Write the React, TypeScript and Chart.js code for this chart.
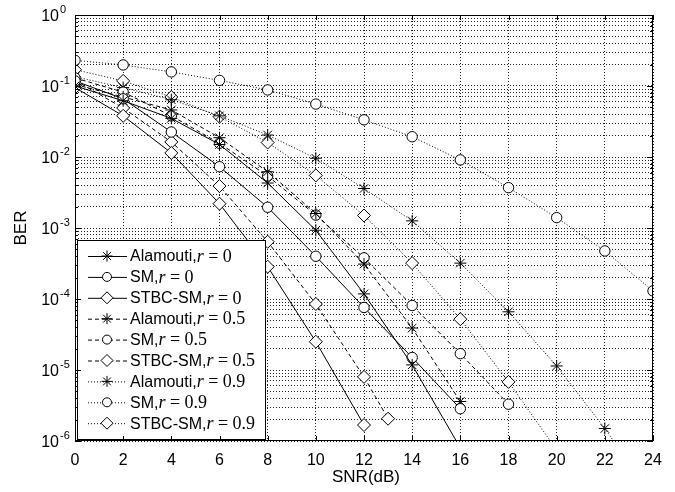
import React, { useEffect, useRef } from 'react';
import { Chart, registerables } from 'chart.js';

Chart.register(...registerables);

// ---- data (SNR in dB, BER) ----
const snrTicks = [0, 2, 4, 6, 8, 10, 12, 14, 16, 18, 20, 22, 24];
const decadeExponents = [-6, -5, -4, -3, -2, -1, 0];
const mantissas = [1, 2, 3, 4, 5, 6, 7, 8, 9];

const snrAlamoutiR0 = [0, 2, 4, 6, 8, 10, 12, 14, 16];
const berAlamoutiR0 = [0.1, 0.062, 0.035, 0.015, 0.0043, 9.3e-4, 1.18e-4, 1.18e-5, 8e-7];

const snrSmR0 = [0, 2, 4, 6, 8, 10, 12, 14, 16];
const berSmR0 = [0.118, 0.066, 0.0225, 0.0073, 0.00196, 4.0e-4, 7.6e-5, 1.5e-5, 2.85e-6];

const snrStbcR0 = [0, 2, 4, 6, 8, 10, 12];
const berStbcR0 = [0.095, 0.038, 0.0114, 0.0022, 2.85e-4, 2.5e-5, 1.68e-6];

const snrAlamoutiR05 = [0, 2, 4, 6, 8, 10, 12, 14, 16];
const berAlamoutiR05 = [0.105, 0.07, 0.046, 0.0187, 0.0062, 1.6e-3, 3.1e-4, 3.9e-5, 3.6e-6];

const snrSmR05 = [0, 2, 4, 6, 8, 10, 12, 14, 16, 18];
const berSmR05 = [0.13, 0.082, 0.038, 0.0156, 0.0054, 0.00152, 3.8e-4, 8.1e-5, 1.7e-5, 3.3e-6];

const snrStbcR05 = [0, 2, 4, 6, 8, 10, 12, 13];
const berStbcR05 = [0.12, 0.049, 0.0163, 0.0039, 6.4e-4, 8.5e-5, 8.0e-6, 2.06e-6];

const snrAlamoutiR09 = [0, 2, 4, 6, 8, 10, 12, 14, 16, 18, 20, 22, 24];
const berAlamoutiR09 = [0.135, 0.095, 0.064, 0.038, 0.0204, 0.0096, 0.0036, 0.00126, 3.2e-4, 6.6e-5, 1.14e-5, 1.5e-6, 1.6e-7];

const snrSmR09 = [0, 2, 4, 6, 8, 10, 12, 14, 16, 18, 20, 22, 24];
const berSmR09 = [0.23, 0.198, 0.158, 0.12, 0.088, 0.0557, 0.0334, 0.0193, 0.0091, 0.0037, 0.0014, 4.75e-4, 1.3e-4];

const snrStbcR09 = [0, 2, 4, 6, 8, 10, 12, 14, 16, 18, 20];
const berStbcR09 = [0.17, 0.118, 0.07, 0.037, 0.016, 0.0055, 0.0015, 3.2e-4, 5.2e-5, 6.8e-6, 7.5e-7];

const seriesNames = ['Alamouti', 'SM', 'STBC-SM', 'Alamouti', 'SM', 'STBC-SM', 'Alamouti', 'SM', 'STBC-SM'];
const seriesR = ['0', '0', '0', '0.5', '0.5', '0.5', '0.9', '0.9', '0.9'];

const SOLID: number[] = [];
const DASHED = [4, 3];
const DOTTED = [1, 2];

const seriesX = [snrAlamoutiR0, snrSmR0, snrStbcR0, snrAlamoutiR05, snrSmR05, snrStbcR05, snrAlamoutiR09, snrSmR09, snrStbcR09];
const seriesY = [berAlamoutiR0, berSmR0, berStbcR0, berAlamoutiR05, berSmR05, berStbcR05, berAlamoutiR09, berSmR09, berStbcR09];
const seriesDash = [SOLID, SOLID, SOLID, DASHED, DASHED, DASHED, DOTTED, DOTTED, DOTTED];
const seriesMarker = ['star', 'circle', 'rectRot', 'star', 'circle', 'rectRot', 'star', 'circle', 'rectRot'];
const markerRadius: Record<string, number> = { star: 6, circle: 5.2, rectRot: 6.5 };

const SANS = '"Liberation Sans", Arial, sans-serif';
const SERIF = '"Liberation Serif", "Times New Roman", serif';

function drawMarker(ctx: CanvasRenderingContext2D, style: string, x: number, y: number, r: number) {
  ctx.save();
  ctx.setLineDash([]);
  ctx.lineWidth = 1;
  ctx.strokeStyle = '#000';
  ctx.fillStyle = '#fff';
  ctx.beginPath();
  if (style === 'circle') {
    ctx.arc(x, y, r, 0, Math.PI * 2);
    ctx.fill();
    ctx.stroke();
  } else if (style === 'rectRot') {
    ctx.moveTo(x, y - r);
    ctx.lineTo(x + r, y);
    ctx.lineTo(x, y + r);
    ctx.lineTo(x - r, y);
    ctx.closePath();
    ctx.fill();
    ctx.stroke();
  } else {
    for (let k = 0; k < 4; k++) {
      const a = (k * Math.PI) / 4;
      ctx.moveTo(x - r * Math.cos(a), y - r * Math.sin(a));
      ctx.lineTo(x + r * Math.cos(a), y + r * Math.sin(a));
    }
    ctx.stroke();
  }
  ctx.restore();
}

const decorPlugin = {
  id: 'berDecor',
  afterDatasetsDraw(chart: any) {
    const { ctx } = chart;
    // legend box
    const bx = 77, by = 240, bw = 189, bh = 200;
    ctx.save();
    ctx.fillStyle = '#fff';
    ctx.fillRect(bx, by, bw, bh);
    ctx.strokeStyle = '#000';
    ctx.lineWidth = 1;
    ctx.setLineDash([]);
    ctx.strokeRect(bx + 0.5, by + 0.5, bw - 1, bh - 1);
    for (let i = 0; i < seriesNames.length; i++) {
      const yy = 256 + i * 20.9;
      ctx.save();
      ctx.strokeStyle = '#000';
      ctx.lineWidth = 1;
      ctx.setLineDash(seriesDash[i]);
      ctx.beginPath();
      ctx.moveTo(88, yy + 0.5);
      ctx.lineTo(127, yy + 0.5);
      ctx.stroke();
      ctx.restore();
      const m = seriesMarker[i];
      drawMarker(ctx, m, 107, yy, m === 'circle' ? 4.5 : m === 'rectRot' ? 6 : 5.5);
      ctx.fillStyle = '#000';
      ctx.textBaseline = 'middle';
      ctx.textAlign = 'left';
      let tx = 130;
      ctx.font = `16px ${SANS}`;
      const t1 = seriesNames[i] + ',';
      ctx.fillText(t1, tx, yy + 1);
      tx += ctx.measureText(t1).width;
      ctx.font = `italic 18px ${SERIF}`;
      ctx.fillText('r', tx, yy + 1);
      tx += ctx.measureText('r').width;
      ctx.font = `18px ${SERIF}`;
      ctx.fillText(' = ' + seriesR[i], tx, yy + 1);
    }
    ctx.restore();
  },
  afterDraw(chart: any) {
    const { ctx, chartArea: a, scales } = chart;
    const xs = scales.x;
    const ys = scales.y;
    ctx.save();
    ctx.setLineDash([]);
    ctx.strokeStyle = '#000';
    ctx.lineWidth = 1;
    // frame
    ctx.strokeRect(Math.round(a.left) + 0.5, Math.round(a.top) + 0.5, Math.round(a.right - a.left) - 1, Math.round(a.bottom - a.top) - 1);
    // inner ticks
    ctx.beginPath();
    for (const v of snrTicks) {
      const px = Math.round(xs.getPixelForValue(v)) + 0.5;
      ctx.moveTo(px, a.top);
      ctx.lineTo(px, a.top + 5);
      ctx.moveTo(px, a.bottom);
      ctx.lineTo(px, a.bottom - 5);
    }
    for (const e of decadeExponents) {
      for (const mm of mantissas) {
        const v = mm * Math.pow(10, e);
        if (v > 1) continue;
        const py = Math.round(ys.getPixelForValue(v)) + 0.5;
        const len = mm === 1 ? 6 : 3;
        ctx.moveTo(a.left, py);
        ctx.lineTo(a.left + len, py);
        ctx.moveTo(a.right, py);
        ctx.lineTo(a.right - len, py);
      }
    }
    ctx.stroke();
    // y tick labels (10^e)
    ctx.fillStyle = '#000';
    for (const e of decadeExponents) {
      const py = ys.getPixelForValue(Math.pow(10, e));
      ctx.font = `16px ${SANS}`;
      ctx.textAlign = 'right';
      ctx.textBaseline = 'middle';
      ctx.fillText('10', 59, py + 2);
      ctx.font = `11px ${SANS}`;
      ctx.textAlign = 'left';
      ctx.fillText(String(e), 60, py - 5);
    }
    // x tick labels
    ctx.font = `16px ${SANS}`;
    ctx.textAlign = 'center';
    ctx.textBaseline = 'middle';
    for (const v of snrTicks) {
      ctx.fillText(String(v), xs.getPixelForValue(v), 461);
    }
    // axis titles
    ctx.font = `17px ${SANS}`;
    ctx.fillText('SNR(dB)', (a.left + a.right) / 2 + 2, 477);
    ctx.save();
    ctx.translate(21, (a.top + a.bottom) / 2);
    ctx.rotate(-Math.PI / 2);
    ctx.fillText('BER', 0, 0);
    ctx.restore();
    ctx.restore();
  },
};

export default function App() {
  const canvasRef = useRef<HTMLCanvasElement | null>(null);

  useEffect(() => {
    const canvas = canvasRef.current;
    if (!canvas) return;
    const gridValues: number[] = [];
    for (const e of decadeExponents) {
      for (const mm of mantissas) {
        const v = mm * Math.pow(10, e);
        if (v <= 1) gridValues.push(v);
      }
    }
    const datasets = seriesNames.map((name, i) => ({
      label: `${name}, r = ${seriesR[i]}`,
      data: seriesX[i].map((x, j) => ({ x, y: seriesY[i][j] })),
      borderColor: '#000',
      borderWidth: 1,
      borderDash: seriesDash[i],
      backgroundColor: '#fff',
      pointStyle: seriesMarker[i] as any,
      pointRadius: markerRadius[seriesMarker[i]],
      pointBorderWidth: 1,
      pointBorderColor: '#000',
      pointBackgroundColor: '#fff',
      tension: 0,
      fill: false,
      clip: 0,
    }));
    const chart = new Chart(canvas, {
      type: 'line',
      data: { datasets },
      plugins: [decorPlugin],
      options: {
        animation: false,
        responsive: false,
        devicePixelRatio: 1,
        layout: { padding: { top: 15, right: 22, left: 0, bottom: 0 } },
        plugins: { legend: { display: false }, tooltip: { enabled: false } },
        scales: {
          x: {
            type: 'linear',
            min: 0,
            max: 24,
            ticks: { display: false, stepSize: 2 },
            afterBuildTicks: (scale: any) => {
              scale.ticks = snrTicks.map((v) => ({ value: v }));
            },
            afterFit: (scale: any) => {
              scale.height = 51;
            },
            grid: { color: '#222', lineWidth: 1, drawTicks: false },
            border: { display: false, dash: [1, 2] },
          },
          y: {
            type: 'logarithmic',
            min: 1e-6,
            max: 1,
            ticks: { display: false },
            afterBuildTicks: (scale: any) => {
              scale.ticks = gridValues.map((v) => ({ value: v }));
            },
            afterFit: (scale: any) => {
              scale.width = 75;
            },
            grid: { color: '#222', lineWidth: 1, drawTicks: false },
            border: { display: false, dash: [1, 2] },
          },
        },
      } as any,
    });
    return () => chart.destroy();
  }, []);

  return (
    <div style={{ position: 'fixed', left: 0, top: 0, width: 675, height: 492, background: '#fff' }}>
      <canvas ref={canvasRef} width={675} height={492} />
    </div>
  );
}
